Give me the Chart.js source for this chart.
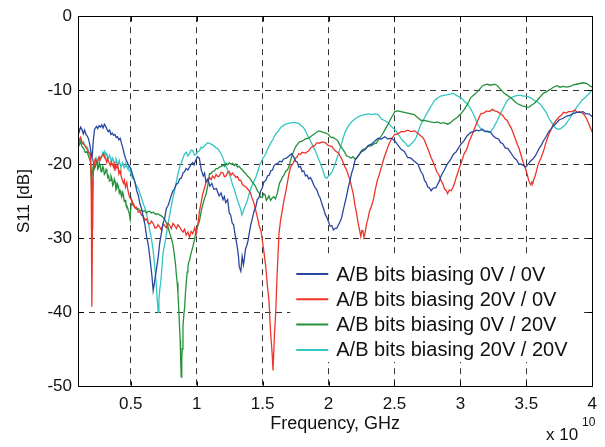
<!DOCTYPE html>
<html>
<head>
<meta charset="utf-8">
<script src="https://cdn.jsdelivr.net/npm/chart.js@4/dist/chart.umd.min.js"></script>
<style>
html,body{margin:0;padding:0;background:#fff;}
#wrap{width:605px;height:447px;}
</style>
</head>
<body>
<div id="wrap"><canvas id="c" width="605" height="447"></canvas></div>
<script>
// Axis titles, tick values and series names
const xTitle = "Frequency, GHz";
const yTitle = "S11 [dB]";
const xExponent = "10";
const xTickValues = [0.5, 1, 1.5, 2, 2.5, 3, 3.5, 4];
const yTickValues = [-50, -40, -30, -20, -10, 0];
const seriesNames = ["A/B bits biasing 0V / 0V", "A/B bits biasing 20V / 0V", "A/B bits biasing 0V / 20V", "A/B bits biasing 20V / 20V"];
const seriesColors = ["#2a47a0", "#ee3428", "#22913a", "#33c6c2"];

// Series: [frequency (x 10^10 Hz), S11 (dB)]
const s11_0V_0V = [
[0.10,-14.8],[0.11,-15.6],[0.12,-15.0],[0.13,-15.3],[0.14,-15.9],[0.15,-15.4],[0.16,-16.0],[0.17,-16.2],[0.18,-16.6],[0.19,-17.4],[0.20,-18.6],[0.207,-19.2],[0.215,-17.0],[0.225,-15.3],
[0.24,-14.9],[0.25,-15.2],[0.26,-14.8],[0.27,-15.0],[0.28,-14.7],[0.29,-15.1],[0.30,-14.6],[0.31,-14.9],[0.32,-15.3],[0.33,-15.6],[0.34,-15.4],[0.35,-16.0],[0.36,-15.8],[0.37,-16.1],
[0.38,-16.0],[0.39,-16.4],[0.40,-16.3],[0.41,-16.7],[0.42,-16.5],[0.43,-17.2],[0.44,-17.8],[0.45,-18.6],[0.46,-19.2],[0.47,-19.6],[0.48,-20.0],[0.49,-20.3],[0.50,-20.6],[0.51,-21.2],[0.52,-21.8],
[0.532,-22.4],[0.545,-23.6],[0.557,-24.2],[0.57,-25.4],[0.582,-26.0],[0.595,-27.2],[0.607,-28.1],[0.62,-29.8],[0.632,-30.8],[0.645,-32.6],[0.66,-35.0],[0.67,-37.1],[0.68,-36.0],[0.69,-34.8],[0.708,-32.6],[0.72,-30.6],[0.732,-29.4],[0.745,-28.0],[0.758,-27.3],[0.77,-26.0],
[0.783,-25.6],[0.796,-24.9],[0.808,-24.2],[0.82,-23.6],[0.833,-23.3],[0.846,-22.7],[0.858,-22.6],[0.87,-22.0],[0.883,-21.9],[0.896,-21.2],[0.908,-21.0],[0.92,-20.6],[0.933,-20.8],[0.946,-20.4],[0.958,-20.0],[0.97,-19.8],[0.98,-20.1],[0.99,-19.6],[1.005,-19.0],[1.02,-19.2],[1.035,-20.8],[1.05,-21.6],
[1.06,-21.2],[1.07,-22.4],[1.085,-22.0],[1.10,-23.0],[1.115,-22.6],[1.13,-23.4],[1.15,-23.3],[1.16,-23.8],[1.17,-24.3],[1.185,-23.9],[1.20,-24.8],[1.21,-24.4],[1.22,-25.2],[1.235,-24.8],[1.247,-26.6],[1.258,-26.9],[1.27,-28.0],[1.28,-28.2],[1.29,-29.4],
[1.30,-30.4],[1.31,-31.5],[1.317,-32.5],[1.323,-33.9],[1.335,-34.5],[1.345,-32.5],[1.355,-33.6],[1.36,-33.0],[1.37,-31.5],[1.38,-31.0],[1.39,-30.3],[1.398,-29.4],[1.41,-28.2],[1.42,-27.5],[1.436,-26.3],[1.448,-25.8],[1.46,-24.8],[1.473,-24.5],[1.486,-23.6],[1.498,-23.2],[1.51,-22.4],
[1.524,-22.2],[1.537,-21.6],[1.55,-21.5],[1.562,-20.9],[1.575,-20.8],[1.587,-20.2],[1.60,-20.0],[1.615,-19.9],[1.63,-19.6],[1.645,-19.7],[1.66,-19.3],[1.68,-19.2],[1.70,-18.9],[1.72,-18.6],[1.735,-19.0],[1.75,-19.6],[1.762,-19.7],[1.774,-20.4],[1.787,-20.3],[1.80,-21.0],[1.812,-20.9],[1.825,-21.6],[1.837,-21.5],[1.85,-22.0],
[1.862,-21.8],[1.874,-22.2],[1.887,-22.8],[1.90,-23.2],[1.912,-23.5],[1.925,-24.2],[1.937,-24.6],[1.95,-25.4],[1.962,-26.0],[1.975,-26.8],[1.987,-27.2],[2.00,-27.8],[2.012,-28.4],[2.025,-28.3],[2.037,-28.9],[2.05,-28.7],[2.062,-28.7],[2.075,-28.2],[2.087,-27.8],[2.10,-27.2],[2.112,-26.2],[2.125,-25.2],[2.137,-24.3],[2.15,-23.1],[2.162,-22.3],[2.175,-21.2],
[2.187,-20.6],[2.20,-19.5],[2.225,-18.9],[2.25,-18.3],[2.275,-18.1],[2.30,-17.5],[2.326,-17.3],[2.35,-16.9],[2.376,-16.5],[2.40,-16.6],[2.427,-16.3],[2.45,-16.6],[2.475,-16.5],[2.50,-16.8],[2.525,-17.4],[2.55,-18.0],[2.575,-18.3],[2.60,-19.1],[2.625,-19.2],[2.65,-19.6],[2.678,-20.0],[2.70,-21.0],
[2.715,-21.4],[2.728,-22.2],[2.74,-22.5],[2.753,-23.1],[2.765,-23.2],[2.778,-23.6],[2.79,-23.3],[2.80,-23.2],[2.815,-23.2],[2.828,-22.7],[2.84,-22.3],[2.853,-21.6],[2.875,-20.9],[2.90,-20.0],[2.925,-19.4],[2.95,-18.6],[2.965,-18.4],[2.979,-18.0],[3.00,-17.4],[3.025,-16.9],[3.05,-16.2],[3.079,-15.7],[3.10,-15.6],[3.12,-15.4],
[3.14,-15.5],[3.167,-15.3],[3.185,-15.6],[3.20,-15.5],[3.229,-15.7],[3.25,-16.2],[3.27,-16.5],[3.29,-16.6],[3.305,-17.1],[3.32,-17.2],[3.34,-17.8],[3.36,-17.9],[3.38,-18.4],[3.395,-18.8],[3.41,-19.2],[3.425,-19.4],[3.443,-20.0],[3.46,-20.0],[3.48,-20.2],[3.495,-20.4],[3.505,-20.2],[3.53,-19.6],[3.55,-19.3],[3.568,-18.9],
[3.585,-18.3],[3.60,-17.8],[3.615,-17.4],[3.631,-16.8],[3.65,-16.3],[3.67,-15.6],[3.69,-15.2],[3.706,-14.8],[3.73,-14.4],[3.75,-14.0],[3.78,-13.8],[3.807,-13.5],[3.83,-13.4],[3.85,-13.2],[3.88,-13.0],[3.907,-13.0],[3.93,-12.9],[3.95,-13.2],[3.975,-13.2],[4.00,-13.6]
];
const s11_20V_0V = [
[0.10,-16.2],[0.11,-16.8],[0.12,-16.4],[0.13,-17.0],[0.143,-17.3],[0.155,-17.6],[0.169,-18.0],[0.18,-18.4],[0.194,-18.6],[0.200,-22.0],[0.205,-39.3],[0.210,-28.0],[0.215,-21.0],
[0.231,-19.3],[0.245,-19.8],[0.26,-19.0],[0.269,-19.4],[0.28,-18.9],[0.294,-18.6],[0.30,-19.1],[0.31,-19.3],[0.319,-19.8],[0.325,-19.2],[0.33,-19.5],[0.338,-19.9],[0.345,-20.2],[0.352,-19.7],[0.36,-20.0],[0.369,-20.4],[0.375,-20.0],[0.38,-20.9],
[0.387,-20.2],[0.395,-20.5],[0.402,-20.1],[0.41,-21.3],[0.419,-20.9],[0.425,-21.5],[0.43,-21.8],[0.438,-22.3],[0.445,-22.6],[0.452,-22.2],[0.46,-23.1],[0.47,-22.5],[0.476,-23.3],[0.482,-23.8],[0.488,-24.3],[0.495,-24.6],[0.508,-24.9],[0.514,-25.4],[0.52,-25.3],[0.532,-25.9],[0.545,-25.8],[0.557,-26.5],[0.57,-26.4],
[0.582,-26.9],[0.595,-27.0],[0.607,-27.6],[0.62,-27.4],[0.632,-28.0],[0.645,-28.1],[0.657,-27.7],[0.67,-28.0],[0.682,-28.6],[0.695,-28.6],[0.707,-28.2],[0.72,-28.5],[0.732,-28.9],[0.745,-28.1],[0.757,-28.3],[0.77,-28.6],[0.783,-28.0],[0.796,-28.3],[0.808,-28.7],[0.82,-28.0],[0.833,-28.3],[0.846,-28.7],[0.858,-28.2],[0.871,-28.5],[0.883,-28.9],[0.896,-29.2],
[0.908,-28.8],[0.92,-29.6],[0.933,-29.2],[0.946,-29.9],[0.958,-29.1],[0.97,-29.4],[0.985,-28.6],[0.997,-29.4],[1.01,-28.0],[1.022,-26.3],[1.034,-25.2],[1.046,-24.0],[1.06,-23.2],[1.072,-22.4],[1.085,-22.3],[1.097,-21.8],[1.11,-22.1],[1.12,-21.6],[1.135,-21.9],[1.147,-21.4],[1.16,-21.7],[1.172,-21.6],
[1.185,-21.1],[1.20,-21.2],[1.21,-21.7],[1.223,-21.6],[1.235,-21.1],[1.247,-21.0],[1.26,-21.5],[1.272,-21.2],[1.285,-21.5],[1.298,-21.8],[1.31,-21.7],[1.323,-22.2],[1.335,-22.2],[1.348,-22.8],[1.373,-23.1],[1.398,-23.6],[1.41,-24.0],[1.42,-24.6],[1.435,-25.3],[1.448,-26.3],[1.462,-27.3],[1.475,-28.4],[1.487,-29.0],[1.498,-30.3],[1.511,-32.0],
[1.524,-33.9],[1.535,-36.2],[1.548,-38.4],[1.561,-42.9],[1.572,-45.5],[1.579,-47.9],[1.59,-43.0],[1.599,-40.2],[1.61,-35.0],[1.624,-29.4],[1.636,-27.6],[1.649,-26.3],[1.662,-24.9],[1.675,-23.8],[1.687,-22.6],[1.70,-21.3],
[1.712,-20.4],[1.73,-19.9],[1.75,-19.2],[1.762,-19.0],[1.774,-18.6],[1.787,-18.7],[1.80,-18.4],[1.825,-18.5],[1.85,-18.2],[1.865,-17.8],[1.88,-17.6],[1.895,-17.5],[1.912,-17.1],[1.93,-17.2],[1.95,-17.0],[1.975,-17.1],[2.00,-17.5],[2.025,-17.6],[2.05,-18.2],[2.075,-18.5],[2.10,-19.3],[2.125,-20.4],
[2.137,-20.8],[2.15,-21.5],[2.162,-22.1],[2.175,-23.1],[2.187,-24.0],[2.20,-25.5],[2.213,-26.7],[2.226,-28.1],[2.235,-28.9],[2.245,-29.8],[2.252,-29.0],[2.26,-29.0],[2.268,-29.9],[2.276,-29.4],[2.288,-28.1],[2.30,-27.3],[2.31,-26.4],[2.325,-25.7],[2.339,-24.9],[2.355,-23.4],[2.37,-22.2],[2.385,-21.4],[2.401,-20.4],[2.42,-19.2],[2.44,-18.2],
[2.458,-17.3],[2.477,-16.6],[2.49,-16.3],[2.50,-16.0],[2.525,-15.9],[2.552,-15.6],[2.575,-15.6],[2.60,-15.4],[2.625,-15.6],[2.653,-15.5],[2.675,-15.8],[2.70,-16.2],[2.715,-16.4],[2.728,-16.8],[2.75,-17.8],[2.778,-19.1],[2.80,-20.0],[2.82,-21.0],[2.838,-21.5],[2.853,-22.2],[2.868,-22.7],[2.88,-23.4],[2.89,-23.5],[2.903,-24.0],[2.915,-23.5],[2.93,-23.6],
[2.942,-23.2],[2.954,-22.7],[2.968,-21.8],[2.98,-21.2],[2.99,-20.6],[3.003,-20.0],[3.015,-19.3],[3.03,-18.5],[3.042,-18.2],[3.054,-17.7],[3.067,-16.9],[3.08,-16.4],[3.10,-15.5],[3.12,-14.6],[3.137,-13.9],[3.154,-13.2],[3.175,-13.1],[3.20,-12.8],[3.22,-12.9],[3.242,-12.6],[3.26,-12.8],[3.28,-12.9],[3.305,-13.2],[3.32,-13.4],[3.34,-13.9],
[3.355,-14.1],[3.368,-14.6],[3.385,-15.1],[3.40,-15.8],[3.415,-16.5],[3.431,-17.3],[3.445,-17.9],[3.46,-18.8],[3.47,-19.4],[3.481,-20.0],[3.493,-20.6],[3.505,-21.3],[3.518,-22.2],[3.527,-22.6],[3.535,-22.8],[3.543,-22.4],[3.55,-22.5],[3.558,-22.0],[3.568,-21.5],[3.58,-20.7],[3.59,-20.0],[3.61,-19.2],[3.631,-18.2],[3.65,-17.0],[3.67,-16.0],
[3.69,-15.2],[3.706,-14.6],[3.725,-14.1],[3.75,-13.6],[3.765,-13.4],[3.782,-13.0],[3.80,-13.1],[3.82,-12.9],[3.845,-12.9],[3.869,-12.7],[3.885,-13.0],[3.90,-12.9],[3.915,-13.0],[3.932,-13.2],[3.945,-13.5],[3.96,-14.0],[3.98,-14.8],[4.00,-15.7]
];
const s11_0V_20V = [
[0.10,-16.8],[0.11,-17.4],[0.12,-17.0],[0.13,-17.6],[0.143,-17.9],[0.155,-18.4],[0.169,-18.3],[0.18,-18.9],[0.194,-19.6],[0.203,-22.0],[0.21,-21.0],[0.219,-19.8],[0.225,-20.6],[0.231,-20.4],
[0.238,-19.7],[0.245,-19.9],[0.25,-20.7],[0.257,-20.5],[0.263,-19.9],[0.269,-20.2],[0.275,-21.0],[0.282,-20.8],[0.288,-20.3],[0.294,-20.6],[0.30,-21.4],[0.307,-21.2],[0.313,-20.7],[0.319,-20.9],[0.325,-21.8],[0.332,-21.6],[0.338,-22.3],[0.345,-22.2],[0.35,-21.6],[0.357,-22.0],[0.363,-22.9],[0.369,-22.7],[0.375,-22.0],[0.382,-22.4],
[0.388,-23.5],[0.394,-23.3],[0.40,-22.7],[0.407,-23.0],[0.413,-23.9],[0.419,-23.6],[0.425,-24.0],[0.432,-24.4],[0.438,-23.8],[0.444,-24.1],[0.45,-25.0],[0.457,-24.9],[0.463,-25.4],[0.47,-25.6],[0.476,-25.9],[0.482,-26.3],[0.488,-26.6],[0.495,-27.4],[0.502,-25.5],[0.508,-24.9],[0.514,-25.3],[0.52,-25.6],[0.533,-25.9],[0.545,-26.1],
[0.557,-26.0],[0.57,-26.3],[0.582,-26.2],[0.595,-26.4],[0.607,-26.3],[0.62,-26.6],[0.632,-26.4],[0.645,-26.4],[0.657,-26.6],[0.67,-26.5],[0.682,-26.7],[0.695,-26.8],[0.707,-26.7],[0.72,-26.9],[0.732,-27.0],[0.745,-27.2],[0.758,-27.5],[0.771,-28.0],[0.784,-28.6],[0.796,-29.4],[0.808,-30.0],[0.821,-31.0],[0.833,-32.6],[0.84,-33.6],[0.846,-35.0],
[0.852,-36.0],[0.858,-37.5],[0.864,-39.5],[0.87,-42.0],[0.875,-43.8],[0.878,-46.0],[0.883,-48.8],[0.887,-46.5],[0.89,-45.0],[0.896,-42.0],[0.902,-40.5],[0.909,-39.3],[0.915,-37.4],[0.921,-36.0],[0.928,-34.6],[0.934,-33.9],[0.94,-33.2],[0.946,-33.0],[0.958,-32.0],[0.971,-31.2],[0.984,-30.2],[0.997,-28.8],[1.01,-28.3],[1.022,-27.6],
[1.034,-26.4],[1.046,-25.5],[1.06,-24.6],[1.072,-24.0],[1.085,-22.8],[1.097,-21.3],[1.108,-21.3],[1.12,-21.0],[1.135,-20.9],[1.147,-20.6],[1.16,-20.6],[1.172,-20.4],[1.185,-20.3],[1.20,-20.1],[1.21,-20.3],[1.223,-19.9],[1.235,-20.1],[1.247,-19.8],[1.26,-20.0],[1.272,-19.9],[1.285,-20.2],[1.298,-20.0],[1.31,-20.4],[1.323,-20.3],
[1.335,-20.6],[1.348,-20.8],[1.36,-21.1],[1.373,-21.3],[1.385,-21.6],[1.398,-21.8],[1.41,-22.1],[1.42,-22.4],[1.435,-22.7],[1.448,-23.1],[1.46,-23.6],[1.474,-23.9],[1.486,-24.5],[1.498,-24.5],[1.508,-24.0],[1.52,-24.2],[1.528,-24.9],[1.536,-24.7],[1.548,-24.3],[1.561,-24.9],[1.572,-24.6],[1.585,-24.4],[1.598,-24.7],[1.611,-24.0],[1.62,-23.2],[1.63,-22.5],
[1.64,-22.2],[1.649,-21.8],[1.662,-21.5],[1.674,-21.0],[1.687,-20.8],[1.699,-20.4],[1.71,-19.6],[1.72,-19.0],[1.735,-18.3],[1.749,-17.7],[1.765,-17.3],[1.78,-17.0],[1.80,-16.9],[1.825,-16.6],[1.85,-16.5],[1.87,-16.2],[1.895,-15.9],[1.925,-15.5],[1.945,-15.6],[1.96,-15.7],[1.98,-15.8],[2.00,-16.0],[2.012,-16.3],[2.025,-16.4],[2.037,-16.4],[2.05,-16.6],
[2.062,-16.7],[2.075,-17.0],[2.087,-17.5],[2.10,-17.8],[2.12,-18.3],[2.137,-18.9],[2.155,-19.0],[2.17,-19.2],[2.185,-19.0],[2.20,-19.3],[2.215,-19.1],[2.23,-18.8],[2.245,-18.3],[2.26,-18.0],[2.28,-17.9],[2.30,-17.6],[2.325,-17.5],[2.35,-17.2],[2.362,-17.2],[2.376,-16.8],[2.40,-16.2],[2.42,-15.6],[2.435,-15.1],[2.452,-14.6],[2.465,-14.1],[2.48,-13.6],
[2.49,-13.3],[2.502,-12.9],[2.525,-12.8],[2.55,-12.9],[2.575,-13.0],[2.60,-13.1],[2.625,-13.2],[2.65,-13.3],[2.675,-13.7],[2.703,-14.1],[2.725,-14.1],[2.75,-14.2],[2.775,-14.3],[2.803,-14.4],[2.825,-14.3],[2.85,-14.5],[2.875,-14.4],[2.903,-14.6],[2.925,-14.4],[2.95,-14.0],[2.975,-13.7],[3.003,-13.2],[3.03,-12.6],[3.054,-11.9],[3.079,-11.0],[3.10,-10.7],
[3.13,-10.2],[3.15,-9.8],[3.167,-9.4],[3.185,-9.3],[3.204,-9.2],[3.22,-9.3],[3.24,-9.3],[3.26,-9.2],[3.28,-9.4],[3.305,-9.9],[3.33,-10.4],[3.355,-10.7],[3.38,-11.0],[3.405,-11.4],[3.43,-11.8],[3.465,-12.1],[3.505,-12.3],[3.52,-12.3],[3.54,-12.0],[3.56,-11.8],[3.581,-11.4],[3.605,-10.9],[3.63,-10.4],[3.655,-10.2],[3.681,-9.9],
[3.705,-9.6],[3.731,-9.4],[3.755,-9.6],[3.78,-9.5],[3.805,-9.6],[3.832,-9.5],[3.855,-9.3],[3.88,-9.2],[3.905,-9.1],[3.932,-9.0],[3.96,-9.1],[3.98,-9.4],[4.00,-9.6]
];
const s11_20V_20V = [
[0.10,-16.5],[0.11,-17.2],[0.12,-16.6],[0.13,-17.3],[0.143,-17.0],[0.155,-17.6],[0.169,-17.7],[0.18,-18.2],[0.194,-19.0],[0.203,-24.0],[0.207,-28.7],[0.212,-24.0],[0.219,-20.2],
[0.231,-19.5],[0.238,-19.2],[0.245,-19.9],[0.25,-19.4],[0.257,-19.2],[0.263,-19.7],[0.269,-19.4],[0.275,-19.0],[0.282,-18.8],[0.288,-18.4],[0.294,-18.6],[0.30,-18.3],[0.307,-19.0],[0.313,-18.5],[0.319,-18.7],[0.325,-19.3],[0.332,-19.2],[0.338,-18.8],[0.345,-19.1],[0.35,-19.5],[0.357,-19.6],[0.363,-19.2],[0.369,-19.5],
[0.375,-20.0],[0.382,-19.8],[0.388,-19.3],[0.394,-19.6],[0.40,-20.1],[0.407,-19.9],[0.413,-19.5],[0.419,-20.0],[0.425,-20.4],[0.432,-20.2],[0.438,-19.8],[0.444,-20.1],[0.45,-20.5],[0.457,-20.3],[0.463,-19.9],[0.47,-20.2],[0.476,-20.6],[0.482,-20.4],[0.488,-20.9],[0.495,-20.8],[0.50,-21.2],[0.508,-21.4],[0.514,-21.9],[0.52,-21.8],
[0.532,-22.5],[0.545,-23.0],[0.557,-23.3],[0.57,-24.0],[0.582,-24.6],[0.595,-25.4],[0.607,-25.9],[0.62,-26.7],[0.632,-27.8],[0.645,-29.0],[0.657,-30.1],[0.67,-31.7],[0.68,-33.4],[0.69,-35.5],[0.70,-38.0],[0.708,-40.0],[0.714,-38.2],[0.72,-37.0],[0.727,-36.0],[0.733,-34.8],[0.74,-33.2],[0.745,-32.0],[0.758,-30.8],[0.771,-29.4],
[0.784,-28.0],[0.796,-26.8],[0.808,-25.6],[0.821,-24.5],[0.833,-23.5],[0.846,-22.4],[0.858,-21.3],[0.871,-20.4],[0.883,-19.8],[0.896,-19.2],[0.908,-18.6],[0.921,-18.4],[0.933,-18.9],[0.946,-18.6],[0.958,-18.1],[0.971,-18.2],[0.984,-18.8],[0.997,-18.6],[1.01,-18.3],[1.022,-18.2],[1.034,-17.7],[1.046,-17.8],[1.06,-17.5],[1.072,-17.3],
[1.085,-17.1],[1.097,-17.2],[1.11,-17.3],[1.12,-17.4],[1.135,-17.6],[1.147,-17.8],[1.16,-17.9],[1.172,-18.2],[1.185,-18.6],[1.20,-19.2],[1.21,-19.7],[1.223,-20.3],[1.235,-20.8],[1.247,-21.3],[1.26,-22.0],[1.272,-22.8],[1.285,-23.4],[1.298,-24.2],[1.31,-24.9],[1.322,-25.5],[1.335,-26.2],[1.342,-26.9],[1.348,-26.7],[1.355,-26.2],[1.36,-26.0],
[1.372,-25.5],[1.385,-24.9],[1.398,-24.0],[1.41,-23.3],[1.43,-22.5],[1.448,-21.8],[1.465,-20.9],[1.48,-20.0],[1.50,-19.3],[1.524,-18.6],[1.54,-17.9],[1.56,-17.2],[1.58,-16.6],[1.599,-15.9],[1.62,-15.5],[1.64,-15.0],[1.657,-14.8],[1.674,-14.6],[1.695,-14.5],[1.72,-14.4],[1.745,-14.4],[1.774,-14.5],[1.787,-14.7],[1.80,-14.9],[1.812,-15.1],[1.825,-15.5],
[1.843,-16.2],[1.862,-16.8],[1.88,-17.5],[1.90,-18.2],[1.92,-19.1],[1.94,-20.0],[1.958,-20.9],[1.975,-21.8],[1.987,-21.9],[2.00,-21.6],[2.012,-21.4],[2.025,-21.1],[2.037,-20.6],[2.05,-20.0],[2.062,-19.3],[2.075,-18.6],[2.087,-17.9],[2.10,-17.2],[2.112,-16.4],[2.125,-15.7],[2.142,-15.1],[2.16,-14.6],[2.18,-14.2],[2.20,-13.9],[2.225,-13.6],[2.25,-13.4],
[2.275,-13.3],[2.301,-13.2],[2.325,-13.3],[2.35,-13.2],[2.376,-13.3],[2.39,-13.6],[2.40,-13.9],[2.425,-14.1],[2.452,-14.4],[2.475,-14.9],[2.50,-15.3],[2.515,-15.6],[2.527,-15.9],[2.545,-16.4],[2.56,-16.8],[2.58,-17.1],[2.602,-17.6],[2.615,-17.5],[2.63,-17.2],[2.648,-16.9],[2.665,-16.4],[2.68,-15.6],[2.70,-14.6],[2.715,-14.2],[2.728,-13.7],[2.75,-13.0],
[2.77,-12.4],[2.787,-11.9],[2.803,-11.4],[2.825,-11.1],[2.85,-10.8],[2.875,-10.7],[2.903,-10.6],[2.928,-10.5],[2.945,-10.4],[2.96,-10.6],[2.98,-10.8],[3.003,-11.0],[3.03,-11.5],[3.054,-11.9],[3.08,-12.6],[3.10,-13.3],[3.115,-13.9],[3.129,-14.6],[3.15,-15.1],[3.17,-15.4],[3.19,-15.6],[3.217,-15.7],[3.235,-15.5],[3.25,-15.1],[3.265,-14.6],[3.28,-14.1],
[3.30,-13.3],[3.32,-12.6],[3.337,-12.0],[3.355,-11.4],[3.375,-11.1],[3.40,-10.9],[3.415,-10.8],[3.431,-10.7],[3.455,-10.7],[3.48,-10.8],[3.50,-10.8],[3.518,-10.9],[3.54,-11.1],[3.56,-11.4],[3.585,-11.6],[3.606,-11.9],[3.63,-12.5],[3.65,-13.0],[3.665,-13.6],[3.681,-14.1],[3.70,-14.6],[3.72,-15.1],[3.744,-15.3],[3.76,-15.2],[3.78,-14.9],[3.795,-14.7],
[3.807,-14.4],[3.83,-13.8],[3.85,-13.2],[3.865,-12.8],[3.882,-12.3],[3.90,-11.9],[3.92,-11.4],[3.94,-11.1],[3.957,-10.8],[3.98,-10.4],[4.00,-9.9]
];
const seriesData = [s11_0V_0V, s11_20V_0V, s11_0V_20V, s11_20V_20V];

const FONT = "Arial, 'Liberation Sans', Helvetica, sans-serif";

const legendBoxPlugin = {
  id: 'legendBox',
  afterDatasetsDraw(chart) {
    const {ctx, chartArea: a} = chart;
    const bx = a.right - 302, by = a.bottom - 128, bw = 292, bh = 104;
    ctx.save();
    ctx.fillStyle = '#fff';
    ctx.fillRect(bx, by, bw, bh);
    ctx.font = '20px ' + FONT;
    ctx.textBaseline = 'middle';
    ctx.textAlign = 'left';
    chart.data.datasets.forEach((ds, i) => {
      const y = by + 16 + i * 25.3;
      ctx.strokeStyle = ds.borderColor;
      ctx.lineWidth = 2;
      ctx.beginPath();
      ctx.moveTo(bx + 6, y);
      ctx.lineTo(bx + 38, y);
      ctx.stroke();
      ctx.fillStyle = '#111';
      ctx.fillText(ds.label, bx + 46, y + 1);
    });
    ctx.restore();
  }
};

const framePlugin = {
  id: 'frame',
  afterDraw(chart) {
    const {ctx, chartArea: a, scales} = chart;
    ctx.save();
    ctx.strokeStyle = '#000';
    ctx.lineWidth = 1;
    const L = Math.round(a.left) + 0.5, R = Math.round(a.right) + 0.5;
    const T = Math.round(a.top) + 0.5, B = Math.round(a.bottom) + 0.5;
    ctx.strokeRect(L, T, R - L, B - T);
    ctx.beginPath();
    scales.x.ticks.forEach(t => {
      const px = Math.round(scales.x.getPixelForValue(t.value)) + 0.5;
      ctx.moveTo(px, B); ctx.lineTo(px, B - 5);
      ctx.moveTo(px, T); ctx.lineTo(px, T + 5);
    });
    scales.y.ticks.forEach(t => {
      const py = Math.round(scales.y.getPixelForValue(t.value)) + 0.5;
      ctx.moveTo(L, py); ctx.lineTo(L + 5, py);
      ctx.moveTo(R, py); ctx.lineTo(R - 5, py);
    });
    ctx.stroke();
    // exponent label of x axis
    ctx.fillStyle = '#111';
    ctx.textBaseline = 'middle';
    ctx.textAlign = 'left';
    ctx.font = '17px ' + FONT;
    ctx.fillText('x 10', 546, 435);
    ctx.font = '12px ' + FONT;
    ctx.fillText(xExponent, 582, 423);
    ctx.restore();
  }
};

const chart = new Chart(document.getElementById('c'), {
  type: 'line',
  data: {
    datasets: seriesData.map((d, i) => ({
      label: seriesNames[i],
      data: d.map(p => ({x: p[0], y: p[1]})),
      borderColor: seriesColors[i],
      backgroundColor: seriesColors[i],
      borderWidth: 1.3,
      pointRadius: 0,
      tension: 0,
      fill: false
    }))
  },
  options: {
    responsive: false,
    animation: false,
    devicePixelRatio: 1,
    layout: {padding: {left: 0, right: 9, top: 15, bottom: 0}},
    plugins: {legend: {display: false}, tooltip: {enabled: false}},
    scales: {
      x: {
        type: 'linear',
        min: 0.1, max: 4,
        afterBuildTicks: s => { s.ticks = xTickValues.map(v => ({value: v})); },
        afterFit: s => { s.height = 61; },
        ticks: {color: '#111', font: {family: FONT, size: 17}, padding: 8, maxRotation: 0, autoSkip: false, callback: v => String(v)},
        grid: {color: '#333', lineWidth: 1, drawTicks: false},
        border: {display: false, dash: [6, 5]},
        title: {display: true, text: xTitle, color: '#111', font: {family: FONT, size: 18}, padding: {top: 0, bottom: 12}}
      },
      y: {
        min: -50, max: 0,
        afterBuildTicks: s => { s.ticks = yTickValues.map(v => ({value: v})); },
        afterFit: s => { s.width = 78; },
        ticks: {color: '#111', font: {family: FONT, size: 17}, padding: 6, autoSkip: false, callback: v => String(v)},
        grid: {color: '#333', lineWidth: 1, drawTicks: false},
        border: {display: false, dash: [6, 5]},
        title: {display: true, text: yTitle, color: '#111', font: {family: FONT, size: 17}, padding: {top: 14, bottom: 0}}
      }
    }
  },
  plugins: [legendBoxPlugin, framePlugin]
});
</script>
</body>
</html>
